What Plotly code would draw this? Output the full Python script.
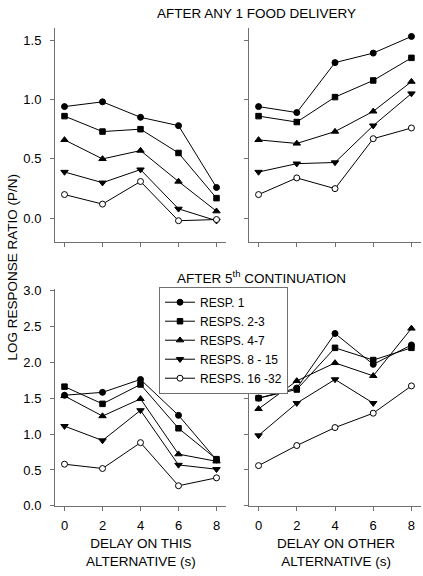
import plotly.graph_objects as go

delays = [0, 2, 4, 6, 8]
series_names = ["RESP. 1", "RESPS. 2-3", "RESPS. 4-7", "RESPS. 8 - 15", "RESPS. 16 -32"]

# After any 1 food delivery
top_this = [
    [0.94, 0.98, 0.85, 0.78, 0.26],
    [0.86, 0.73, 0.75, 0.55, 0.17],
    [0.66, 0.50, 0.57, 0.31, 0.06],
    [0.39, 0.30, 0.41, 0.08, -0.02],
    [0.20, 0.12, 0.31, -0.02, -0.01],
]
top_other = [
    [0.94, 0.89, 1.31, 1.39, 1.53],
    [0.86, 0.81, 1.02, 1.16, 1.35],
    [0.66, 0.63, 0.73, 0.90, 1.15],
    [0.39, 0.46, 0.47, 0.78, 1.05],
    [0.20, 0.34, 0.25, 0.67, 0.76],
]
# After 5th continuation
bot_this = [
    [1.54, 1.58, 1.76, 1.26, 0.64],
    [1.66, 1.42, 1.69, 1.08, 0.65],
    [1.53, 1.25, 1.49, 0.72, 0.62],
    [1.11, 0.91, 1.33, 0.57, 0.51],
    [0.58, 0.52, 0.88, 0.28, 0.39],
]
bot_other = [
    [1.50, 1.64, 2.40, 1.97, 2.24],
    [1.50, 1.62, 2.20, 2.03, 2.20],
    [1.35, 1.74, 1.99, 1.81, 2.47],
    [0.98, 1.43, 1.76, 1.43, None],
    [0.56, 0.84, 1.09, 1.29, 1.67],
]

symbols = ["circle", "square", "triangle-up", "triangle-down", "circle"]
fills = ["black", "black", "black", "black", "white"]
sizes = [6, 5.5, 6.5, 6.5, 6]

FONT = "Liberation Sans, Arial, sans-serif"
W, H = 423, 576
AX = "#707070"

fig = go.Figure()

panels = [
    (top_this, "x", "y", False),
    (top_other, "x2", "y2", False),
    (bot_this, "x3", "y3", True),
    (bot_other, "x4", "y4", False),
]
for data, xa, ya, legend in panels:
    for i, vals in enumerate(data):
        fig.add_trace(go.Scatter(
            x=delays, y=vals, xaxis=xa, yaxis=ya, mode="lines+markers",
            name=series_names[i], showlegend=legend, connectgaps=False,
            line=dict(color="black", width=1),
            marker=dict(symbol=symbols[i], size=sizes[i], color=fills[i],
                        line=dict(color="black", width=1)),
        ))

def px_x(a, b):
    return [a / W, b / W]

def px_y(top, bottom):
    return [1 - bottom / H, 1 - top / H]

xcommon = dict(range=[-0.5, 8.5], tickvals=delays, showline=True, linecolor=AX, linewidth=1,
               ticks="outside", ticklen=4, tickcolor=AX, showgrid=False, zeroline=False,
               tickfont=dict(family=FONT, size=13, color="black"), ticklabelstandoff=4)
ycommon = dict(showline=True, linecolor=AX, linewidth=1, ticks="outside", ticklen=4,
               tickcolor=AX, showgrid=False, zeroline=False,
               tickfont=dict(family=FONT, size=13, color="black"), ticklabelstandoff=6)

fig.update_layout(
    width=W, height=H, margin=dict(l=0, r=0, t=0, b=0),
    paper_bgcolor="white", plot_bgcolor="white",
    font=dict(family=FONT, color="black"),
    xaxis=dict(domain=px_x(55, 226), anchor="y", showticklabels=False, **xcommon),
    xaxis2=dict(domain=px_x(249, 421), anchor="y2", showticklabels=False, **xcommon),
    xaxis3=dict(domain=px_x(55, 226), anchor="y3", **xcommon),
    xaxis4=dict(domain=px_x(249, 421), anchor="y4", **xcommon),
    yaxis=dict(domain=px_y(22.7, 242), anchor="x", range=[-0.2, 1.6],
               tickvals=[0, 0.5, 1.0, 1.5], ticktext=["0.0", "0.5", "1.0", "1.5"], **ycommon),
    yaxis2=dict(domain=px_y(22.7, 242), anchor="x2", range=[-0.2, 1.6],
                tickvals=[0, 0.5, 1.0, 1.5], showticklabels=False, **ycommon),
    yaxis3=dict(domain=px_y(290, 512.3), anchor="x3", range=[0, 3.02],
                tickvals=[0, 0.5, 1, 1.5, 2, 2.5, 3],
                ticktext=["0.0", "0.5", "1.0", "1.5", "2.0", "2.5", "3.0"], **ycommon),
    yaxis4=dict(domain=px_y(290, 512.3), anchor="x4", range=[0, 3.02],
                tickvals=[0, 0.5, 1, 1.5, 2, 2.5, 3], showticklabels=False, **ycommon),
    legend=dict(x=159 / W, y=1 - 287.7 / H, xanchor="left", yanchor="top",
                bgcolor="white", bordercolor=AX, borderwidth=1,
                font=dict(family=FONT, size=12, color="black"),
                tracegroupgap=0, itemwidth=30),
)

ann = [
    dict(text="AFTER ANY 1 FOOD DELIVERY", x=256 / W, y=1 - 8 / H, size=13.5),
    dict(text="AFTER 5<sup>th</sup> CONTINUATION", x=261 / W, y=1 - 278 / H, size=13.5),
    dict(text="DELAY ON THIS<br>ALTERNATIVE (s)", x=141 / W, y=1 - 560 / H, size=13.5),
    dict(text="DELAY ON OTHER<br>ALTERNATIVE (s)", x=336 / W, y=1 - 560 / H, size=13.5),
]
for a in ann:
    fig.add_annotation(text=a["text"], x=a["x"], y=a["y"], xref="paper", yref="paper",
                       xanchor="center", yanchor="middle", showarrow=False,
                       font=dict(family=FONT, size=a["size"], color="black"))
fig.add_annotation(text="LOG RESPONSE RATIO (P/N)", x=12 / W, y=1 - 268 / H, xref="paper",
                   yref="paper", xanchor="center", yanchor="middle", showarrow=False,
                   textangle=-90, font=dict(family=FONT, size=13.5, color="black"))

fig.write_html("out.html", config={"displayModeBar": False},
               post_script="document.body.style.margin='0';document.body.style.overflow='hidden';")
